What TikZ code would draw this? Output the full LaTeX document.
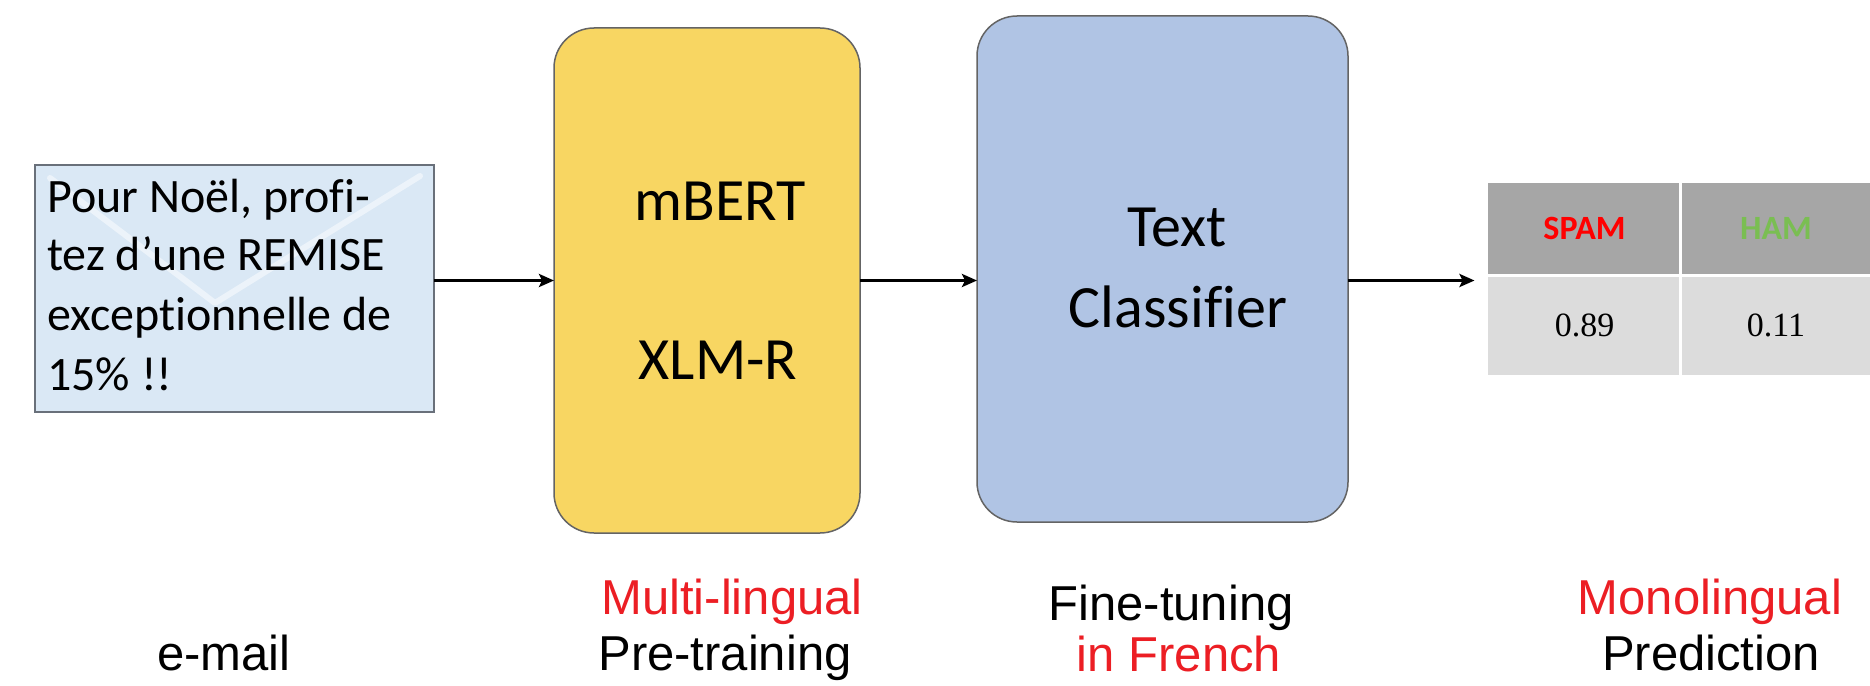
\documentclass[tikz,border=0pt]{standalone}
\usepackage{fontspec}
\setmainfont{Carlito}[Ligatures=NoCommon]
\newfontfamily\labfont{Liberation Sans}
\newfontfamily\numfont{Liberation Serif}
\usetikzlibrary{arrows.meta}
\definecolor{mailfill}{RGB}{218,232,245}
\definecolor{mailedge}{RGB}{105,112,122}
\definecolor{yelfill}{RGB}{248,214,98}
\definecolor{bluefill}{RGB}{176,196,228}
\definecolor{boxedge}{RGB}{100,100,100}
\definecolor{headgray}{RGB}{166,166,166}
\definecolor{bodygray}{RGB}{220,220,220}
\definecolor{labred}{RGB}{236,30,36}
\definecolor{hamgreen}{RGB}{122,190,82}
\begin{document}
\begin{tikzpicture}[x=1pt,y=-1pt,
  cell/.style={inner sep=0pt, outer sep=0pt, draw=white, line width=3pt},
  stage/.style={draw=boxedge, line width=1.5pt, rounded corners=40pt, inner sep=0pt, outer sep=0pt},
  arr/.style={line width=3.5pt, -{Stealth[length=15pt,width=13pt,inset=3pt]}},
  boxtxt/.style={font=\fontsize{60}{72}\selectfont, anchor=base, inner sep=0pt},
  mailtxt/.style={font=\fontsize{48}{59}\selectfont, anchor=base west, inner sep=0pt},
  lab/.style={font=\labfont\fontsize{49}{59}\selectfont, anchor=base, inner sep=0pt},
  headtxt/.style={font=\bfseries\fontsize{34}{40}\selectfont},
  numtxt/.style={font=\numfont\fontsize{34}{40}\selectfont}]
\useasboundingbox (0,0) rectangle (1870,685);
\fill[white] (0,0) rectangle (1870,685);

% e-mail box
\node[draw=mailedge, line width=2pt, fill=mailfill, inner sep=0pt, outer sep=0pt,
      minimum width=399pt, minimum height=247pt] (email) at (234.5,288.5) {};
\draw[white, opacity=0.5, line width=6pt, line cap=round, line join=round]
  (50,178) -- (215,303) -- (420,176);
\node[mailtxt] (m1) at (47,212) {Pour Noël, profi-};
\node[mailtxt] (m2) at (47,270) {tez d’une REMISE};
\node[mailtxt] (m3) at (47,330) {except\kern0pt ionnelle de};
\node[mailtxt] (m4) at (47,390) {15\% !!};

% stage boxes
\node[stage, fill=yelfill, minimum width=306pt, minimum height=505pt] (pre) at (707,280.5) {};
\node[boxtxt] (t1) at (720,220) {mBERT};
\node[boxtxt] (t2) at (718,379) {XLM-R};

\node[stage, fill=bluefill, minimum width=371pt, minimum height=506pt] (cls) at (1162.5,269) {};
\node[boxtxt] (t3) at (1177,246) {Text};
\node[boxtxt] (t4) at (1178,327) {Classifier};

% output table
\node[cell, fill=headgray, minimum width=196pt, minimum height=94pt, text=red, headtxt] (spamH) at (1584.5,228.5) {SPAM};
\node[cell, fill=headgray, minimum width=192pt, minimum height=94pt, text=hamgreen, headtxt] (hamH) at (1776,228.5) {HAM};
\node[cell, fill=bodygray, minimum width=196pt, minimum height=101pt, numtxt] (spamV) at (1584.5,325.5) {0.89};
\node[cell, fill=bodygray, minimum width=192pt, minimum height=101pt, numtxt] (hamV) at (1776,325.5) {0.11};

% connectors
\draw[arr] (email.east |- pre.west) -- (pre.west);
\draw[arr] (pre.east) -- (pre.east -| cls.west);
\draw[arr, shorten >=12pt] (cls.east |- pre.east) -- (pre.east -| spamH.west);

% bottom labels
\node[lab] (l0) at (224,670) {e-mail};
\node[lab, text=labred] (l1) at (732,614) {Multi-lingual};
\node[lab] (l2) at (725,670) {Pre-training};
\node[lab] (l3) at (1171,620) {Fine-tuning};
\node[lab, text=labred] (l4) at (1179,671) {in French};
\node[lab, text=labred] (l5) at (1710,614) {Monolingual};
\node[lab] (l6) at (1711,670) {Prediction};
\end{tikzpicture}
\end{document}
